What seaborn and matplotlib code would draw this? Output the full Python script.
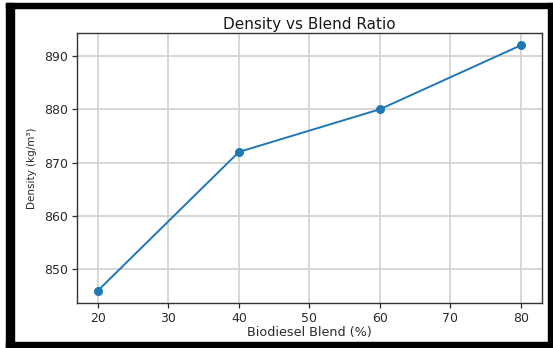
import matplotlib
matplotlib.use("Agg")
import matplotlib.pyplot as plt
import seaborn as sns
import pandas as pd
from matplotlib.patches import Rectangle

blend = [20, 40, 60, 80]
density = [846, 872, 880, 892]
x_ticks = [20, 30, 40, 50, 60, 70, 80]
y_ticks = [850, 860, 870, 880, 890]

df = pd.DataFrame({"Blend": blend, "Density": density})

sns.set_style("ticks")
plt.rcParams['font.family'] = ['DejaVu Sans']

fig = plt.figure(figsize=(5.53, 3.48), dpi=100)
ax = fig.add_axes([0.139, 0.130, 0.841, 0.775])

sns.lineplot(data=df, x="Blend", y="Density", marker="o", markersize=6.5,
             markeredgewidth=0, color="#1f77b4", linewidth=1.4, ax=ax)

ax.set_xticks(x_ticks)
ax.set_yticks(y_ticks)
ax.grid(True, color="#d3d3d3", linewidth=1.3)
ax.set_axisbelow(True)
for s in ax.spines.values():
    s.set_color("#333333")
    s.set_linewidth(1.0)
ax.tick_params(labelsize=9, colors="#2a2a2a", length=3.5, width=0.9, pad=3)
ax.set_title("Density vs Blend Ratio", fontsize=11, color="#1a1a1a", pad=3)
ax.set_xlabel("Biodiesel Blend (%)", fontsize=9.2, color="#2a2a2a", labelpad=1)
ax.set_ylabel("Density (kg/m³)", fontsize=7.5, color="#2a2a2a", labelpad=5)

# black frame round the screenshot
W, H = 553, 348
fig.patches.append(Rectangle((6 / W, 0), 8 / W, 345 / H, transform=fig.transFigure,
                             color="black", zorder=10))
fig.patches.append(Rectangle((6 / W, (348 - 8) / H), (553 - 6) / W, 5 / H,
                             transform=fig.transFigure, color="black", zorder=10))
fig.patches.append(Rectangle((548 / W, 0), 5 / W, 345 / H, transform=fig.transFigure,
                             color="black", zorder=10))
fig.patches.append(Rectangle((6 / W, 0), (553 - 6) / W, 6 / H, transform=fig.transFigure,
                             color="black", zorder=10))

fig.savefig("out.png", dpi=100)
